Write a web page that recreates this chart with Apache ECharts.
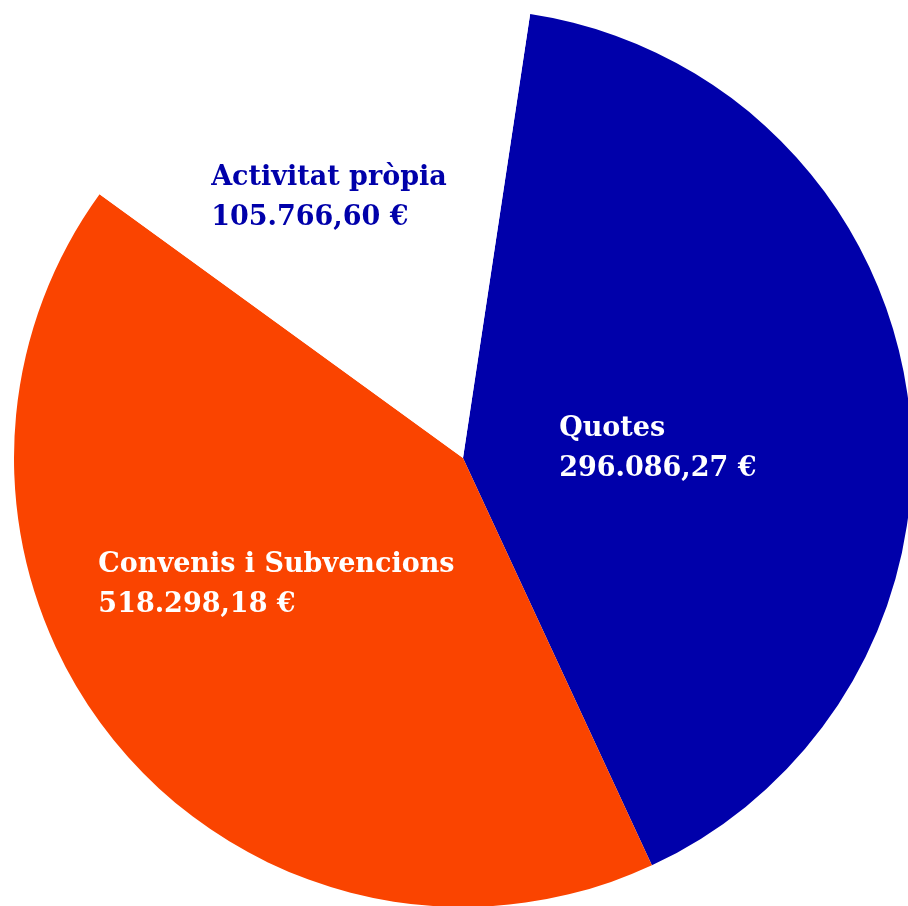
<!DOCTYPE html>
<html>
<head>
<meta charset="utf-8">
<script src="https://cdn.jsdelivr.net/npm/echarts@6/dist/echarts.min.js"></script>
<style>
  html, body { margin: 0; padding: 0; background: #ffffff; }
  #chart { width: 908px; height: 906px; }
</style>
</head>
<body>
<div id="chart"></div>
<script>
// Categories and their printed amounts
const categories = ['Quotes', 'Convenis i Subvencions', 'Activitat pròpia'];
const amountLabels = ['296.086,27 €', '518.298,18 €', '105.766,60 €'];
// Slice sizes as drawn in the picture (percent of the circle)
const sliceShares = [40.7, 41.9, 17.4];

const sliceColors = ['#0000AA', '#FA4400', '#FFFFFF'];
const labelColors = ['#FFFFFF', '#FFFFFF', '#0000AA'];
const labelOffsets = [[71, 23], [11, -18], [36, -50]];
const LABEL_BOX = 400;

const chart = echarts.init(document.getElementById('chart'), null, { renderer: 'canvas' });

const data = categories.map((name, i) => ({
  name: name,
  value: sliceShares[i],
  itemStyle: { color: sliceColors[i] },
  label: {
    offset: labelOffsets[i],
    formatter: '{t|' + name + '}\n{t|' + amountLabels[i] + '}',
    rich: {
      t: {
        color: labelColors[i],
        width: LABEL_BOX,
        align: 'left',
        fontFamily: 'DejaVu Serif',
        fontWeight: 'bold',
        fontSize: 27,
        lineHeight: 40
      }
    }
  }
}));

chart.setOption({
  animation: false,
  backgroundColor: '#ffffff',
  series: [{
    type: 'pie',
    center: [463, 458],
    radius: 449,
    startAngle: 81.4,
    clockwise: true,
    avoidLabelOverlap: false,
    silent: true,
    emphasis: { disabled: true },
    itemStyle: { borderWidth: 0 },
    label: {
      show: true,
      position: 'inside',
      fontFamily: 'DejaVu Serif',
      fontWeight: 'bold',
      fontSize: 27,
      lineHeight: 40
    },
    labelLine: { show: false },
    data: data
  }]
});
</script>
</body>
</html>
